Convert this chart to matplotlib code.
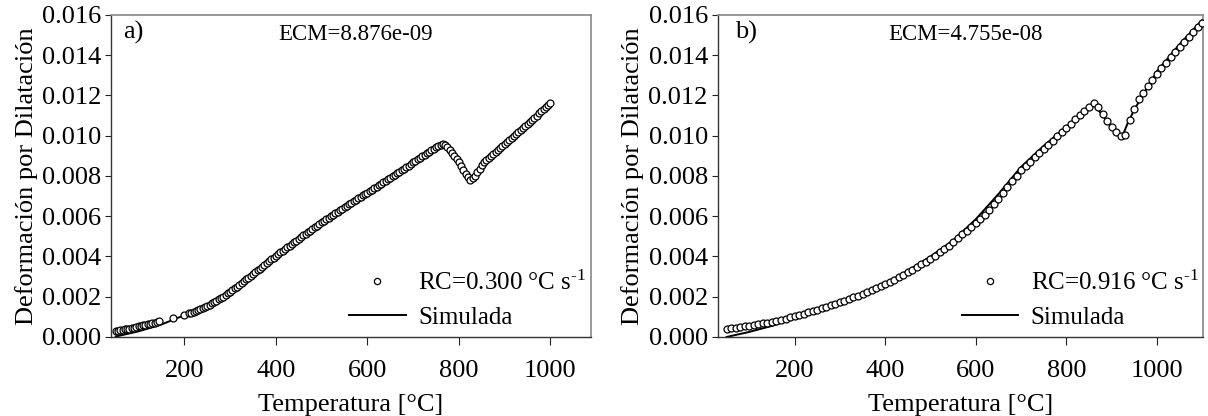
import matplotlib
matplotlib.use("Agg")
import matplotlib.pyplot as plt

plt.rcParams['font.family'] = ['Liberation Serif', 'DejaVu Serif']
plt.rcParams['mathtext.fontset'] = 'custom'
plt.rcParams['mathtext.rm'] = 'Liberation Serif'
plt.rcParams['mathtext.it'] = 'Liberation Serif:italic'

# ---------------- Panel a data (RC = 0.300 °C/s) ----------------
temp_a = [50, 55, 60, 65, 70, 75, 80, 85, 90, 95, 100, 105, 110, 115, 120, 125,
          130, 135, 140, 145, 175, 200,
          210, 215, 220, 225, 230, 235, 240, 245, 250, 255, 260, 265, 270, 275,
          280, 285, 290, 295, 300, 305, 310, 315, 320, 325, 330, 335, 340, 345,
          350, 355, 360, 365, 370, 375, 380, 385, 390, 395, 400, 405, 410, 415,
          420, 425, 430, 435, 440, 445, 450, 455, 460, 465, 470, 475, 480, 485,
          490, 495, 500, 505, 510, 515, 520, 525, 530, 535, 540, 545, 550, 555,
          560, 565, 570, 575, 580, 585, 590, 595, 600, 605, 610, 615, 620, 625,
          630, 635, 640, 645, 650, 655, 660, 665, 670, 675, 680, 685, 690, 695,
          700, 705, 710, 715, 720, 725, 730, 735, 740, 745, 750, 755, 760, 765,
          770, 775, 780, 785, 790, 795, 800, 805, 810, 815, 820, 825, 830, 835,
          840, 845, 850, 855, 860, 865, 870, 875, 880, 885, 890, 895, 900, 905,
          910, 915, 920, 925, 930, 935, 940, 945, 950, 955, 960, 965, 970, 975,
          980, 985, 990, 995, 1000]
exp_a = [0.00030, 0.00032, 0.00034, 0.00036, 0.00038, 0.00040, 0.00042, 0.00045,
         0.00047, 0.00050, 0.00052, 0.00055, 0.00057, 0.00060, 0.00062, 0.00065,
         0.00068, 0.00071, 0.00074, 0.00078, 0.00095, 0.00110,
         0.00117, 0.00121, 0.00125, 0.00129, 0.00134, 0.00139, 0.00144, 0.00150,
         0.00155, 0.00161, 0.00167, 0.00173, 0.00180, 0.00187, 0.00194, 0.00201,
         0.00209, 0.00217, 0.00225, 0.00233, 0.00242, 0.00250, 0.00259, 0.00268,
         0.00277, 0.00286, 0.00295, 0.00304, 0.00313, 0.00322, 0.00331, 0.00340,
         0.00349, 0.00358, 0.00367, 0.00376, 0.00385, 0.00394, 0.00403, 0.00411,
         0.00420, 0.00428, 0.00437, 0.00445, 0.00454, 0.00462, 0.00471, 0.00479,
         0.00488, 0.00496, 0.00505, 0.00513, 0.00521, 0.00529, 0.00537, 0.00545,
         0.00553, 0.00561, 0.00569, 0.00577, 0.00585, 0.00592, 0.00600, 0.00607,
         0.00615, 0.00622, 0.00630, 0.00637, 0.00645, 0.00652, 0.00660, 0.00667,
         0.00675, 0.00682, 0.00689, 0.00696, 0.00703, 0.00710, 0.00717, 0.00724,
         0.00732, 0.00739, 0.00747, 0.00754, 0.00762, 0.00769, 0.00777, 0.00784,
         0.00792, 0.00799, 0.00807, 0.00814, 0.00822, 0.00829, 0.00837, 0.00844,
         0.00852, 0.00859, 0.00867, 0.00874, 0.00882, 0.00889, 0.00897, 0.00904,
         0.00912, 0.00919, 0.00927, 0.00934, 0.00942, 0.00949, 0.00956, 0.00960,
         0.00955, 0.00944, 0.00930, 0.00915, 0.00900, 0.00884, 0.00868, 0.00850,
         0.00832, 0.00812, 0.00794, 0.00780, 0.00788, 0.00800, 0.00818, 0.00837,
         0.00855, 0.00868, 0.00880, 0.00890, 0.00900, 0.00910, 0.00920, 0.00930,
         0.00940, 0.00950, 0.00960, 0.00970, 0.00980, 0.00990, 0.01000, 0.01010,
         0.01020, 0.01030, 0.01040, 0.01050, 0.01060, 0.01070, 0.01080, 0.01090,
         0.01100, 0.01111, 0.01122, 0.01132, 0.01143, 0.01154, 0.01165]

sim_temp_a = [50, 100, 150, 200, 250, 300, 350, 400, 450, 500, 550, 600, 650,
              700, 750, 765, 780, 800, 825, 840, 850, 900, 950, 1000]
sim_a = [0.00002, 0.00028, 0.00062, 0.00108, 0.00158, 0.00218, 0.00300, 0.00390,
         0.00480, 0.00562, 0.00640, 0.00712, 0.00788, 0.00863, 0.00938, 0.00958,
         0.00928, 0.00865, 0.00775, 0.00815, 0.00850, 0.00958, 0.01058, 0.01163]

# ---------------- Panel b data (RC = 0.916 °C/s) ----------------
temp_b = [50, 60, 70, 80, 90, 100, 110, 120, 130, 140, 150, 160, 170, 180, 190,
          200, 210, 220, 230, 240, 250, 260, 270, 280, 290, 300, 310, 320, 330,
          340, 350, 360, 370, 380, 390, 400, 410, 420, 430, 440, 450, 460, 470,
          480, 490, 500, 510, 520, 530, 540, 550, 560, 570, 580, 590, 600, 610,
          620, 630, 640, 650, 660, 670, 680, 690, 700, 710, 720, 730, 740, 750,
          760, 770, 780, 790, 800, 810, 820, 830, 840, 850, 860, 870, 880, 890,
          900, 910, 920, 930, 940, 950, 960, 970, 980, 990, 1000, 1010, 1020,
          1030, 1040, 1050, 1060, 1070, 1080, 1090, 1100]
exp_b = [0.00041, 0.00043, 0.00046, 0.00049, 0.00052, 0.00055, 0.00059, 0.00063,
         0.00067, 0.00071, 0.00076, 0.00081, 0.00086, 0.00091, 0.00097, 0.00103,
         0.00109, 0.00115, 0.00122, 0.00129, 0.00136, 0.00143, 0.00150, 0.00157,
         0.00164, 0.00172, 0.00180, 0.00188, 0.00197, 0.00206, 0.00215, 0.00224,
         0.00233, 0.00242, 0.00252, 0.00262, 0.00273, 0.00285, 0.00297, 0.00309,
         0.00322, 0.00335, 0.00348, 0.00361, 0.00374, 0.00388, 0.00404, 0.00420,
         0.00437, 0.00454, 0.00472, 0.00491, 0.00510, 0.00528, 0.00547, 0.00566,
         0.00585, 0.00607, 0.00632, 0.00660, 0.00688, 0.00717, 0.00745, 0.00775,
         0.00802, 0.00828, 0.00850, 0.00871, 0.00892, 0.00913, 0.00934, 0.00955,
         0.00976, 0.00997, 0.01018, 0.01039, 0.01060, 0.01081, 0.01102, 0.01123,
         0.01144, 0.01163, 0.01145, 0.01110, 0.01075, 0.01045, 0.01020, 0.00998,
         0.01005, 0.01080, 0.01135, 0.01180, 0.01212, 0.01245, 0.01275, 0.01305,
         0.01335, 0.01363, 0.01390, 0.01416, 0.01442, 0.01467, 0.01491, 0.01515,
         0.01538, 0.01560]

sim_temp_b = [50, 100, 150, 200, 250, 300, 350, 400, 450, 500, 550, 600, 650,
              700, 750, 800, 850, 858, 870, 900, 921, 935, 950, 1000, 1050, 1100]
sim_b = [0.00000, 0.00025, 0.00055, 0.00090, 0.00128, 0.00168, 0.00213, 0.00265,
         0.00330, 0.00400, 0.00480, 0.00585, 0.00710, 0.00845, 0.00950, 0.01045,
         0.01140, 0.01160, 0.01130, 0.01040, 0.00983, 0.01060, 0.01130, 0.01320,
         0.01455, 0.01575]

panels = [
    dict(tag="a)", tagx=0.025, ecm="ECM=8.876e-09",
         rc="RC=0.300 °C s$^{\u2010 1}$",
         t=temp_a, y=exp_a, st=sim_temp_a, sy=sim_a, xlim=(40, 1088),
         pos=[0.092, 0.19, 0.397, 0.774]),
    dict(tag="b)", tagx=0.036, ecm="ECM=4.755e-08",
         rc="RC=0.916 °C s$^{\u2010 1}$",
         t=temp_b, y=exp_b, st=sim_temp_b, sy=sim_b, xlim=(30, 1102),
         pos=[0.594, 0.19, 0.402, 0.774]),
]

yticks = [0.000, 0.002, 0.004, 0.006, 0.008, 0.010, 0.012, 0.014, 0.016]
xticks = [200, 400, 600, 800, 1000]

fig = plt.figure(figsize=(12.08, 4.16), dpi=100)
FS = 19
for p in panels:
    ax = fig.add_axes(p["pos"])
    ax.plot(p["t"], p["y"], linestyle='none', marker='o', markersize=5,
            markerfacecolor='white', markeredgecolor='black',
            markeredgewidth=0.9, label=p["rc"], zorder=3)
    ax.plot(p["st"], p["sy"], color='black', linewidth=1.4, label="Simulada",
            zorder=2)
    ax.set_xlim(*p["xlim"])
    ax.set_ylim(0, 0.016)
    ax.set_xticks(xticks)
    ax.set_yticks(yticks)
    ax.set_yticklabels([f"{v:.3f}" for v in yticks])
    ax.tick_params(axis='x', direction='out', length=6, pad=10.5, labelsize=FS,
                   colors='#222222', labelcolor='black')
    ax.tick_params(axis='y', direction='out', length=4, pad=3, labelsize=FS,
                   colors='#222222', labelcolor='black')
    for s in ['left', 'bottom']:
        ax.spines[s].set_color('#333333')
        ax.spines[s].set_linewidth(1.0)
    for s in ['top', 'right']:
        ax.spines[s].set_color('#888888')
        ax.spines[s].set_linewidth(1.2)
    ax.set_xlabel("Temperatura [°C]", fontsize=FS, labelpad=9)
    ax.set_ylabel("Deformación por Dilatación", fontsize=FS, labelpad=3)
    ax.text(p["tagx"], 0.945, p["tag"], transform=ax.transAxes, fontsize=FS,
            ha='left', va='center')
    ax.text(0.51, 0.938, p["ecm"], transform=ax.transAxes, fontsize=16.5,
            ha='center', va='center')
    ax.legend(loc='lower right', bbox_to_anchor=(1.012, -0.005), frameon=False,
              fontsize=18, handlelength=2.25, handletextpad=0.5,
              labelspacing=0.45, borderaxespad=0.0, numpoints=1,
              markerscale=0.9)

fig.savefig("out.png", dpi=100)
